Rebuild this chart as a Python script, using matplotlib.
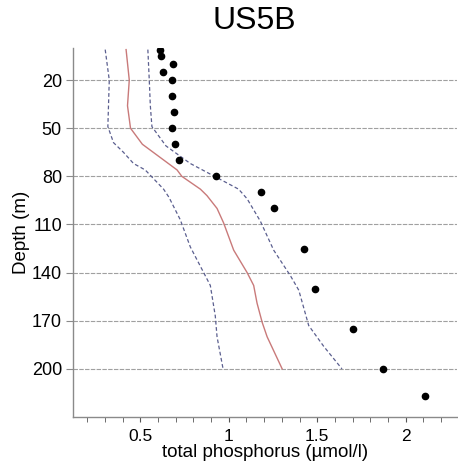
import matplotlib
matplotlib.use("Agg")
import matplotlib.pyplot as plt
from matplotlib.ticker import MultipleLocator

plt.rcParams['font.family'] = ['Liberation Sans', 'DejaVu Sans']

# observed points
obs_depth = [1, 5, 10, 15, 20, 30, 40, 50, 60, 70, 80, 90, 100, 125, 150, 175, 200, 217]
obs_tp = [0.613, 0.615, 0.683, 0.628, 0.681, 0.681, 0.692, 0.681, 0.694, 0.719,
          0.928, 1.183, 1.254, 1.428, 1.485, 1.704, 1.874, 2.111]

# model median (solid red)
med_depth = [1, 20, 36, 50, 60, 76, 80, 88, 92, 100, 109, 126, 140, 148, 159, 171, 180, 200]
med_tp = [0.42, 0.438, 0.428, 0.445, 0.512, 0.708, 0.735, 0.84, 0.877, 0.934, 0.971,
          1.028, 1.104, 1.141, 1.16, 1.189, 1.217, 1.302]

# lower bound (dashed)
low_depth = [1, 20, 49, 59, 65, 72, 76, 88, 93, 107, 124, 138, 148, 167, 180, 200]
low_tp = [0.302, 0.325, 0.317, 0.349, 0.405, 0.462, 0.528, 0.632, 0.662, 0.726, 0.783,
          0.849, 0.896, 0.924, 0.934, 0.968]

# upper bound (dashed)
up_depth = [1, 20, 36, 49, 61, 72, 83, 88, 94, 108, 126, 142, 151, 173, 186, 200]
up_tp = [0.543, 0.551, 0.557, 0.566, 0.645, 0.783, 0.971, 1.056, 1.104, 1.179, 1.254,
         1.349, 1.396, 1.452, 1.537, 1.64]

ytick_vals = [20, 50, 80, 110, 140, 170, 200]
xtick_vals = [0.5, 1, 1.5, 2]
xtick_labels = ['0.5', '1', '1.5', '2']

fig = plt.figure(figsize=(4.58, 4.72), dpi=100)
ax = fig.add_axes([73/458, 1-417/472, (457-73)/458, (417-48)/472])

for y in ytick_vals:
    ax.axhline(y, color='#a0a0a0', lw=0.8, ls=(0, (4, 1.2)), zorder=0)

ax.plot(low_tp, low_depth, color='#5b5f8f', lw=0.9, ls=(0, (3, 2)))
ax.plot(up_tp, up_depth, color='#5b5f8f', lw=0.9, ls=(0, (3, 2)))
ax.plot(med_tp, med_depth, color='#c97a7a', lw=1.0)
ax.plot(obs_tp, obs_depth, 'o', color='black', ms=4.5, ls='none')

ax.set_xlim(0.12, 2.29)
ax.set_ylim(230, 0)
ax.set_yticks(ytick_vals)
ax.set_yticklabels([str(v) for v in ytick_vals])
ax.set_xticks(xtick_vals)
ax.set_xticklabels(xtick_labels)
ax.xaxis.set_minor_locator(MultipleLocator(0.1))

for s in ['top', 'right']:
    ax.spines[s].set_visible(False)
for s in ['left', 'bottom']:
    ax.spines[s].set_color('#8a8a8a')
    ax.spines[s].set_linewidth(1.0)

ax.tick_params(axis='y', direction='out', length=5, color='#8a8a8a', labelsize=13, pad=3)
ax.tick_params(axis='x', which='both', direction='out', length=3.5, color='#555555', labelsize=12.5, pad=5)

ax.set_xlabel('total phosphorus (µmol/l)', fontsize=13.5, labelpad=0)
ax.set_ylabel('Depth (m)', fontsize=13.5, labelpad=1)
fig.text(254/458, 1-21/472, 'US5B', ha='center', va='center', fontsize=23)

fig.savefig('out.png', dpi=100)
